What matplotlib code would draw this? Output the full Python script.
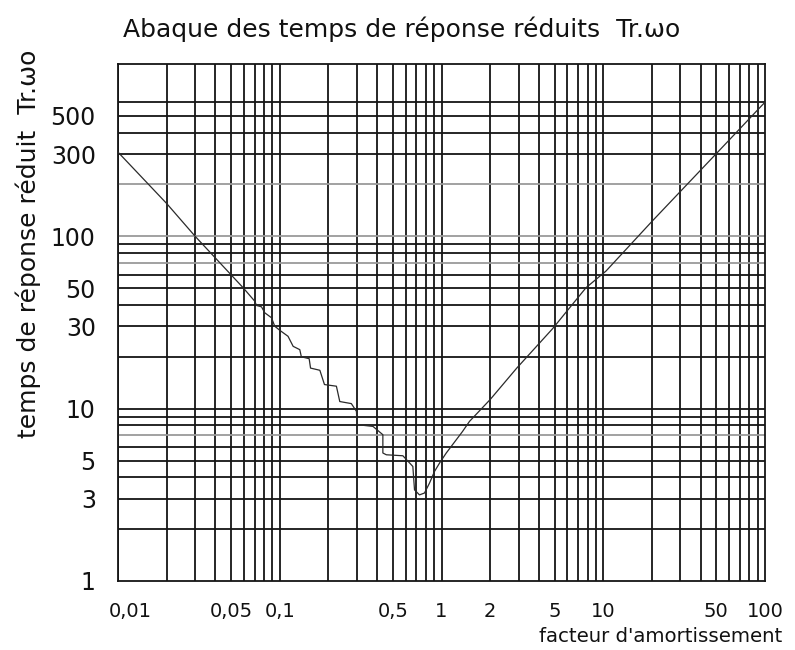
import matplotlib
matplotlib.use("Agg")
import matplotlib.pyplot as plt
from matplotlib.ticker import NullFormatter, NullLocator
from matplotlib.transforms import ScaledTranslation

# damping factor and reduced response time
zeta = [0.01, 0.02, 0.03, 0.0594, 0.0701, 0.0718, 0.0771, 0.0808, 0.0889, 0.0931,
        0.1, 0.1125, 0.121, 0.133, 0.136, 0.152, 0.155, 0.177, 0.189, 0.224,
        0.235, 0.277, 0.298, 0.300, 0.304, 0.377, 0.434, 0.434, 0.456, 0.577,
        0.665, 0.681, 0.731, 0.785, 0.843, 0.905, 0.972, 1.07, 1.35, 1.49,
        2.0, 2.92, 4.86, 7.82, 10.4, 20.1, 37.3, 48.5, 96.2, 100]
tr_w0 = [308, 155, 100, 50.3, 42.0, 39.7, 39.0, 36.0, 33.7, 30.1,
         28.5, 26.3, 23.0, 22.0, 20.0, 19.5, 17.2, 16.7, 13.8, 13.5,
         11.0, 10.7, 9.65, 8.26, 8.07, 7.89, 7.06, 5.53, 5.40, 5.33,
         4.62, 3.38, 3.16, 3.24, 3.70, 4.32, 4.83, 5.53, 7.38, 8.44,
         11.3, 17.2, 29.1, 50.3, 62.9, 122.7, 226, 293, 578, 600]

x_ticks = [0.01, 0.05, 0.1, 0.5, 1, 2, 5, 10, 50, 100]
x_labels = ["0,01", "0,05", "0,1", "0,5", "1", "2", "5", "10", "50", "100"]
y_ticks = [1, 3, 5, 10, 30, 50, 100, 300, 500]
y_labels = ["1", "3", "5", "10", "30", "50", "100", "300", "500"]

x_grid = [k * 10.0 ** d for d in (-2, -1, 0, 1) for k in range(1, 10)]
y_grid = [2, 3, 4, 5, 6, 7, 8, 9, 10, 20, 30, 40, 50, 60, 70, 80, 90, 100,
          200, 300, 400, 500, 600]
y_grid_light = [7, 70, 100, 200]

fig = plt.figure(figsize=(7.95, 6.5), dpi=100)
ax = fig.add_axes([118 / 795, 1 - 581 / 650, 647 / 795, 517 / 650])
ax.set_xscale("log")
ax.set_yscale("log")
ax.set_xlim(0.01, 100)
ax.set_ylim(1, 1000)

for v in x_grid:
    ax.axvline(v, color="#151515", lw=1.3, zorder=1)
for v in y_grid:
    c = "#9a9a9a" if v in y_grid_light else "#151515"
    ax.axhline(v, color=c, lw=1.3, zorder=1)

ax.plot(zeta, tr_w0, color="#2a2a2a", lw=0.9, zorder=3)

ax.set_xticks(x_ticks, x_labels, fontsize=14)
ax.set_yticks(y_ticks, y_labels, fontsize=17)
for axis in (ax.xaxis, ax.yaxis):
    axis.set_minor_locator(NullLocator())
    axis.set_minor_formatter(NullFormatter())
ax.tick_params(axis="x", length=0, pad=15, colors="#111")
ax.tick_params(axis="y", length=0, pad=16, colors="#111")

# first x label sits a bit to the right of its grid line
lab0 = ax.get_xticklabels()[0]
lab0.set_transform(lab0.get_transform() + ScaledTranslation(0.12, 0, fig.dpi_scale_trans))

for s in ax.spines.values():
    s.set_color("#151515")
    s.set_linewidth(1.3)

fig.text(123 / 795, 1 - 37 / 650, "Abaque des temps de réponse réduits  Tr.ωo",
         fontsize=18, color="#111", ha="left", va="baseline")
fig.text(28 / 795, 1 - 50 / 650, "temps de réponse réduit  Tr.ωo", rotation=90,
         fontsize=18, color="#111", ha="center", va="top")
fig.text(782 / 795, 1 - 642 / 650, "facteur d'amortissement",
         fontsize=14.2, color="#111", ha="right", va="baseline")

fig.savefig("out.png", dpi=100, facecolor="white")
